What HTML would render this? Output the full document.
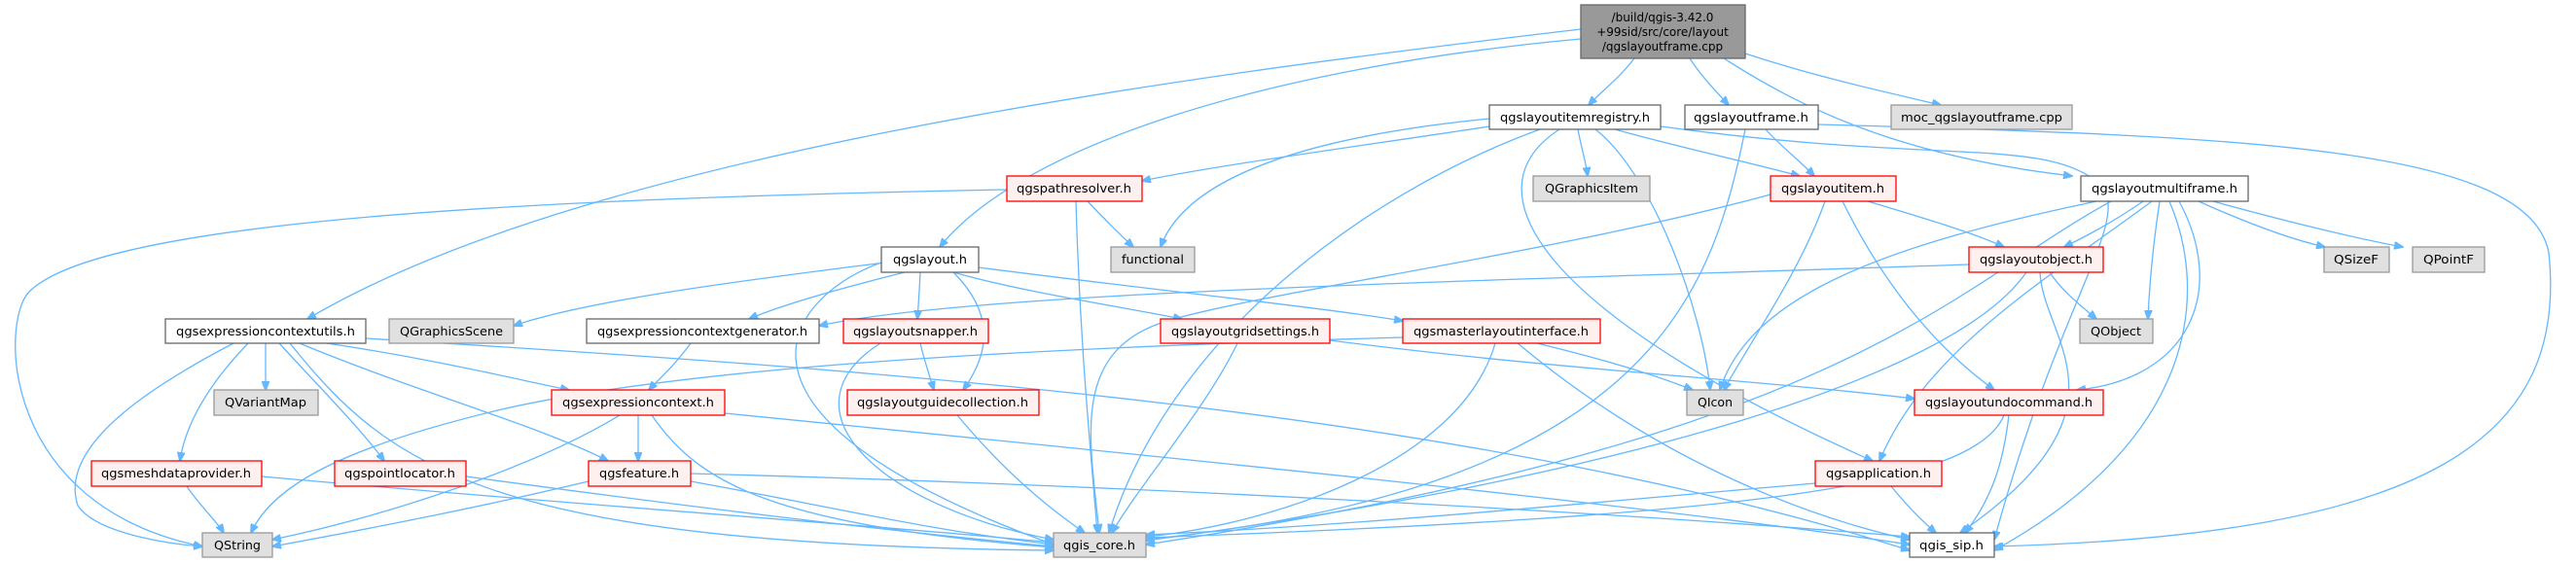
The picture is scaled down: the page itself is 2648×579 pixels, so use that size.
<!DOCTYPE html>
<html><head><meta charset="utf-8"><style>
html,body{margin:0;padding:0;background:#fff;}
svg{display:block}
text{font-family:"DejaVu Sans","Liberation Sans",sans-serif;font-size:12px;fill:#000}
.e{fill:none;stroke:#63b8ff;stroke-width:1.3}
.w{fill:#fff;stroke:#666;stroke-width:1.3}
.g{fill:#e0e0e0;stroke:#999;stroke-width:1.3}
.r{fill:#fff0f0;stroke:#f00;stroke-width:1.3}
</style></head><body>
<svg width="2648" height="579" viewBox="0 0 2648 579" xmlns="http://www.w3.org/2000/svg">
<defs><marker id="a" markerWidth="10" markerHeight="8" refX="9" refY="4" orient="auto" markerUnits="userSpaceOnUse"><path d="M0,0 L10,4 L0,8 z" fill="#63b8ff" stroke="#63b8ff"/></marker></defs>
<g marker-end="url(#a)">
<!-- root -->
<path class="e" d="M1680,60 C1665,80 1645,95 1633,108"/>
<path class="e" d="M1737,60 C1750,80 1765,95 1777,108"/>
<path class="e" d="M1794,55 C1870,80 1940,95 1995,108"/>
<path class="e" d="M1772,60 C1850,110 1950,160 2130,181"/>
<path class="e" d="M1625,40 C1300,70 1050,150 966,254"/>
<path class="e" d="M1625,30 C1200,80 600,160 316,328"/>
<!-- registry -->
<path class="e" d="M1531,130 C1400,150 1250,170 1174,186"/>
<path class="e" d="M1531,122 C1350,140 1220,180 1193,254"/>
<path class="e" d="M1622,133 C1625,150 1630,165 1632,181"/>
<path class="e" d="M1660,133 C1720,150 1790,165 1850,181"/>
<path class="e" d="M1640,133 C1700,180 1750,320 1758,401"/>
<path class="e" d="M1583,133 C1400,200 1200,350 1140,548"/>
<path class="e" d="M1707,130 C2000,170 2100,140 2160,190 C2190,230 2120,300 2050,555"/>
<path class="e" d="M1603,133 C1500,200 1600,330 1925,474"/>
<!-- frame -->
<path class="e" d="M1815,133 C1830,150 1850,165 1865,181"/>
<path class="e" d="M1794,133 C1760,300 1700,500 1178,555"/>
<path class="e" d="M1869,128 C2300,140 2600,150 2620,260 C2640,450 2500,550 2050,562"/>
<!-- multiframe -->
<path class="e" d="M2203,207 C2170,230 2140,245 2122,254"/>
<path class="e" d="M2240,207 C2290,300 2250,390 2135,401"/>
<path class="e" d="M2155,207 C1950,250 1800,300 1768,401"/>
<path class="e" d="M2260,207 C2300,225 2350,245 2390,254"/>
<path class="e" d="M2275,207 C2340,225 2420,245 2470,254"/>
<path class="e" d="M2170,207 C2000,300 1900,450 1178,560"/>
<path class="e" d="M2230,207 C2270,300 2260,450 2050,566"/>
<path class="e" d="M2220,207 C2215,240 2210,280 2208,328"/>
<path class="e" d="M2212,207 C2100,290 1980,360 1932,474"/>
<!-- pathresolver -->
<path class="e" d="M1118,207 C1135,225 1150,240 1165,254"/>
<path class="e" d="M1106,207 C1110,350 1120,450 1128,548"/>
<path class="e" d="M1035,195 C500,205 100,230 30,300 C0,330 0,520 208,562"/>
<!-- qgslayout -->
<path class="e" d="M910,270 C750,290 600,310 528,335"/>
<path class="e" d="M930,280 C850,300 800,315 770,328"/>
<path class="e" d="M946,280 C945,300 944,315 943,328"/>
<path class="e" d="M980,280 C1050,300 1150,315 1215,328"/>
<path class="e" d="M1006,275 C1200,300 1350,315 1442,330"/>
<path class="e" d="M980,280 C1020,320 1020,360 990,401"/>
<path class="e" d="M906,270 C820,300 700,420 1083,560"/>
<!-- layoutitem -->
<path class="e" d="M1920,207 C1980,225 2030,240 2060,254"/>
<path class="e" d="M1876,207 C1850,280 1800,350 1772,401"/>
<path class="e" d="M1894,207 C1930,280 1980,350 2050,401"/>
<path class="e" d="M1820,200 C1600,260 1300,300 1200,330 C1100,360 1120,450 1130,548"/>
<!-- layoutobject -->
<path class="e" d="M2024,272 C1500,290 1000,300 842,335"/>
<path class="e" d="M2107,280 C2120,300 2140,315 2155,328"/>
<path class="e" d="M2083,280 C2000,400 1600,500 1178,556"/>
<path class="e" d="M2097,280 C2100,350 2200,420 2015,548"/>
<!-- exprutils -->
<path class="e" d="M273,353 C273,370 273,385 273,401"/>
<path class="e" d="M336,353 C450,370 530,390 585,401"/>
<path class="e" d="M255,353 C210,400 190,440 185,474"/>
<path class="e" d="M287,353 C330,400 370,440 395,474"/>
<path class="e" d="M308,353 C420,400 560,440 625,474"/>
<path class="e" d="M240,353 C150,400 60,460 80,520 C100,550 180,560 208,562"/>
<path class="e" d="M298,353 C400,480 500,560 1083,566"/>
<path class="e" d="M376,348 C900,380 1500,420 1963,566"/>
<!-- generator -->
<path class="e" d="M710,353 C690,380 675,392 667,401"/>
<!-- snapper -->
<path class="e" d="M946,353 C950,370 955,385 960,401"/>
<path class="e" d="M905,353 C800,420 900,520 1083,555"/>
<!-- grid -->
<path class="e" d="M1272,353 C1240,420 1170,500 1143,548"/>
<path class="e" d="M1367,350 C1600,380 1800,390 1968,410"/>
<!-- master -->
<path class="e" d="M1580,353 C1650,370 1700,385 1740,401"/>
<path class="e" d="M1537,353 C1500,480 1300,540 1178,552"/>
<path class="e" d="M1560,353 C1700,470 1850,530 1963,555"/>
<path class="e" d="M1442,347 C1000,360 700,380 520,420 C350,460 280,500 258,548"/>
<!-- exprctx -->
<path class="e" d="M656,427 C656,445 656,460 656,474"/>
<path class="e" d="M637,427 C550,480 400,530 280,555"/>
<path class="e" d="M670,427 C720,500 800,540 1083,563"/>
<path class="e" d="M745,425 C1200,470 1700,520 1963,560"/>
<!-- leaves -->
<path class="e" d="M192,500 C205,520 222,535 230,548"/>
<path class="e" d="M269,490 C600,520 900,540 1083,558"/>
<path class="e" d="M479,490 C700,520 900,545 1083,562"/>
<path class="e" d="M605,495 C500,520 400,540 280,562"/>
<path class="e" d="M710,495 C850,520 950,545 1083,560"/>
<path class="e" d="M710,487 C1200,500 1700,530 1963,552"/>
<path class="e" d="M984,427 C1020,470 1060,510 1115,548"/>
<path class="e" d="M2060,427 C2030,500 1800,530 1178,553"/>
<path class="e" d="M2065,427 C2060,470 2050,510 2020,548"/>
<path class="e" d="M1866,497 C1600,520 1400,540 1178,550"/>
<path class="e" d="M1944,500 C1960,520 1975,535 1990,548"/>
</g>
<!-- nodes -->
<rect x="1625" y="5" width="169" height="55" style="fill:#999;stroke:#666;stroke-width:1.3"/>
<text x="1709" y="22" text-anchor="middle">/build/qgis-3.42.0</text>
<text x="1709" y="37" text-anchor="middle">+99sid/src/core/layout</text>
<text x="1709" y="52" text-anchor="middle">/qgslayoutframe.cpp</text>

<rect class="w" x="1531" y="108" width="176" height="25"/><text x="1619" y="125" text-anchor="middle" textLength="154" lengthAdjust="spacingAndGlyphs">qgslayoutitemregistry.h</text>
<rect class="w" x="1732" y="108" width="137" height="25"/><text x="1800" y="125" text-anchor="middle" textLength="118" lengthAdjust="spacingAndGlyphs">qgslayoutframe.h</text>
<rect class="g" x="1944" y="108" width="186" height="25"/><text x="2037" y="125" text-anchor="middle" textLength="166" lengthAdjust="spacingAndGlyphs">moc_qgslayoutframe.cpp</text>
<rect class="r" x="1035" y="181" width="139" height="26"/><text x="1104" y="198" text-anchor="middle" textLength="118" lengthAdjust="spacingAndGlyphs">qgspathresolver.h</text>
<rect class="g" x="1576" y="181" width="120" height="26"/><text x="1636" y="198" text-anchor="middle" textLength="96" lengthAdjust="spacingAndGlyphs">QGraphicsItem</text>
<rect class="r" x="1820" y="181" width="129" height="26"/><text x="1884" y="198" text-anchor="middle" textLength="106" lengthAdjust="spacingAndGlyphs">qgslayoutitem.h</text>
<rect class="w" x="2139" y="181" width="172" height="26"/><text x="2225" y="198" text-anchor="middle" textLength="150" lengthAdjust="spacingAndGlyphs">qgslayoutmultiframe.h</text>
<rect class="g" x="1142" y="254" width="86" height="26"/><text x="1185" y="271" text-anchor="middle" textLength="64" lengthAdjust="spacingAndGlyphs">functional</text>
<rect class="w" x="906" y="254" width="100" height="26"/><text x="956" y="271" text-anchor="middle" textLength="76" lengthAdjust="spacingAndGlyphs">qgslayout.h</text>
<rect class="r" x="2024" y="254" width="138" height="26"/><text x="2093" y="271" text-anchor="middle" textLength="116" lengthAdjust="spacingAndGlyphs">qgslayoutobject.h</text>
<rect class="g" x="2389" y="254" width="67" height="26"/><text x="2422" y="271" text-anchor="middle" textLength="46" lengthAdjust="spacingAndGlyphs">QSizeF</text>
<rect class="g" x="2480" y="254" width="74" height="26"/><text x="2517" y="271" text-anchor="middle" textLength="52" lengthAdjust="spacingAndGlyphs">QPointF</text>
<rect class="w" x="170" y="328" width="206" height="25"/><text x="273" y="345" text-anchor="middle" textLength="184" lengthAdjust="spacingAndGlyphs">qgsexpressioncontextutils.h</text>
<rect class="g" x="400" y="328" width="128" height="25"/><text x="464" y="345" text-anchor="middle" textLength="106" lengthAdjust="spacingAndGlyphs">QGraphicsScene</text>
<rect class="w" x="603" y="328" width="239" height="25"/><text x="722" y="345" text-anchor="middle" textLength="216" lengthAdjust="spacingAndGlyphs">qgsexpressioncontextgenerator.h</text>
<rect class="r" x="867" y="328" width="149" height="25"/><text x="941" y="345" text-anchor="middle" textLength="128" lengthAdjust="spacingAndGlyphs">qgslayoutsnapper.h</text>
<rect class="r" x="1193" y="328" width="174" height="25"/><text x="1280" y="345" text-anchor="middle" textLength="152" lengthAdjust="spacingAndGlyphs">qgslayoutgridsettings.h</text>
<rect class="r" x="1442" y="328" width="203" height="25"/><text x="1543" y="345" text-anchor="middle" textLength="180" lengthAdjust="spacingAndGlyphs">qgsmasterlayoutinterface.h</text>
<rect class="g" x="2138" y="328" width="75" height="25"/><text x="2175" y="345" text-anchor="middle" textLength="52" lengthAdjust="spacingAndGlyphs">QObject</text>
<rect class="g" x="220" y="401" width="107" height="26"/><text x="273" y="418" text-anchor="middle" textLength="84" lengthAdjust="spacingAndGlyphs">QVariantMap</text>
<rect class="r" x="567" y="401" width="178" height="26"/><text x="656" y="418" text-anchor="middle" textLength="156" lengthAdjust="spacingAndGlyphs">qgsexpressioncontext.h</text>
<rect class="r" x="871" y="401" width="197" height="26"/><text x="969" y="418" text-anchor="middle" textLength="176" lengthAdjust="spacingAndGlyphs">qgslayoutguidecollection.h</text>
<rect class="g" x="1734" y="401" width="58" height="26"/><text x="1763" y="418" text-anchor="middle" textLength="36" lengthAdjust="spacingAndGlyphs">QIcon</text>
<rect class="r" x="1968" y="401" width="194" height="26"/><text x="2065" y="418" text-anchor="middle" textLength="172" lengthAdjust="spacingAndGlyphs">qgslayoutundocommand.h</text>
<rect class="r" x="94" y="474" width="175" height="26"/><text x="181" y="491" text-anchor="middle" textLength="154" lengthAdjust="spacingAndGlyphs">qgsmeshdataprovider.h</text>
<rect class="r" x="344" y="474" width="135" height="26"/><text x="411" y="491" text-anchor="middle" textLength="114" lengthAdjust="spacingAndGlyphs">qgspointlocator.h</text>
<rect class="r" x="605" y="474" width="105" height="26"/><text x="657" y="491" text-anchor="middle" textLength="82" lengthAdjust="spacingAndGlyphs">qgsfeature.h</text>
<rect class="r" x="1866" y="474" width="130" height="26"/><text x="1931" y="491" text-anchor="middle" textLength="108" lengthAdjust="spacingAndGlyphs">qgsapplication.h</text>
<rect class="g" x="208" y="548" width="72" height="25"/><text x="244" y="565" text-anchor="middle" textLength="48" lengthAdjust="spacingAndGlyphs">QString</text>
<rect class="g" x="1083" y="548" width="95" height="25"/><text x="1130" y="565" text-anchor="middle" textLength="74" lengthAdjust="spacingAndGlyphs">qgis_core.h</text>
<rect class="w" x="1963" y="548" width="87" height="25"/><text x="2006" y="565" text-anchor="middle" textLength="66" lengthAdjust="spacingAndGlyphs">qgis_sip.h</text>
</svg>
</body></html>
